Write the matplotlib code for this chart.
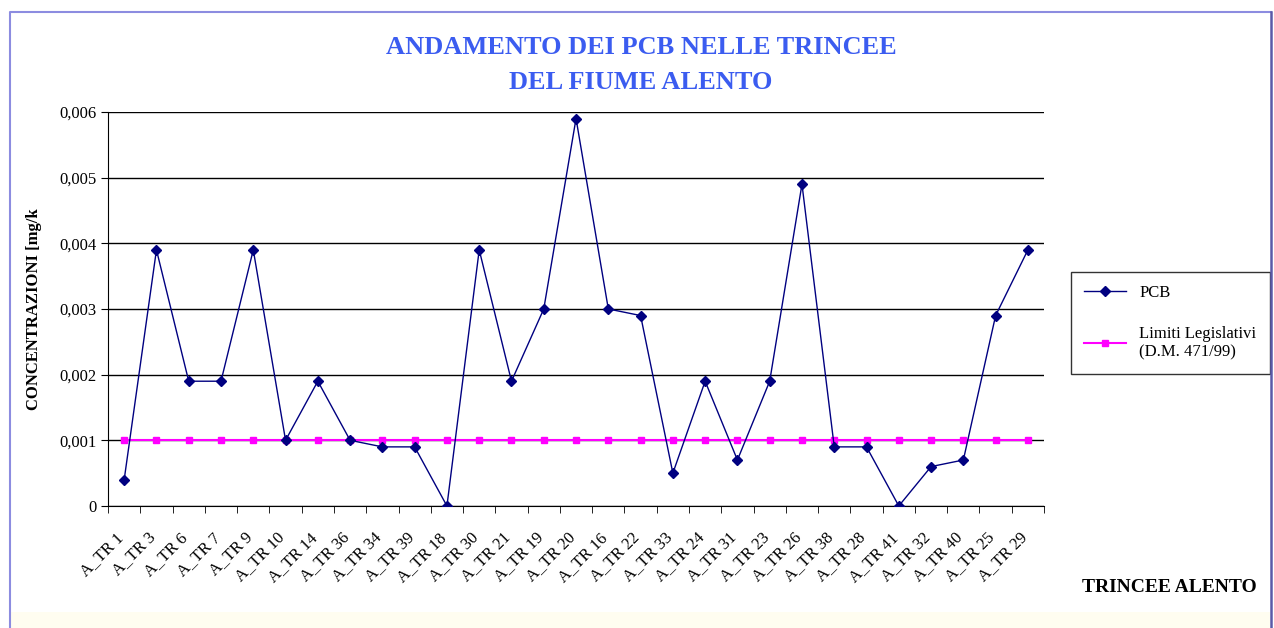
import numpy as np
import matplotlib.pyplot as plt
import matplotlib.transforms as mtransforms
from matplotlib.lines import Line2D
from matplotlib.patches import Rectangle
from matplotlib.ticker import FuncFormatter

# Data
trincee = ['A_TR 1', 'A_TR 3', 'A_TR 6', 'A_TR 7', 'A_TR 9', 'A_TR 10', 'A_TR 14',
           'A_TR 36', 'A_TR 34', 'A_TR 39', 'A_TR 18', 'A_TR 30', 'A_TR 21', 'A_TR 19',
           'A_TR 20', 'A_TR 16', 'A_TR 22', 'A_TR 33', 'A_TR 24', 'A_TR 31', 'A_TR 23',
           'A_TR 26', 'A_TR 38', 'A_TR 28', 'A_TR 41', 'A_TR 32', 'A_TR 40', 'A_TR 25',
           'A_TR 29']
pcb = [0.0004, 0.0039, 0.0019, 0.0019, 0.0039, 0.0010, 0.0019, 0.0010, 0.0009, 0.0009,
       0.0, 0.0039, 0.0019, 0.0030, 0.0059, 0.0030, 0.0029, 0.0005, 0.0019, 0.0007,
       0.0019, 0.0049, 0.0009, 0.0009, 0.0, 0.0006, 0.0007, 0.0029, 0.0039]
limite = [0.001] * len(trincee)

plt.rcParams['font.family'] = ['Liberation Serif', 'DejaVu Serif']

fig = plt.figure(figsize=(12.74, 6.28), dpi=100)
fig.patch.set_facecolor('white')

# light yellow strip at the bottom and the outer border (no bottom edge)
fig.patches.append(Rectangle((0.008, 0), 0.989, 0.026, transform=fig.transFigure,
                             facecolor='#fffdf0', edgecolor='none', zorder=0))
fig.lines.append(Line2D([0.0075, 0.0075, 0.9975], [0.0, 0.981, 0.981],
                        transform=fig.transFigure, color='#8c8ce0', lw=1.5))
fig.lines.append(Line2D([0.9975, 0.9975], [0.981, 0.0],
                        transform=fig.transFigure, color='#5a5aa8', lw=1.8))

ax = fig.add_axes([0.0848, 0.1943, 0.7347, 0.6274])
x = np.arange(len(trincee))

ax.plot(x, pcb, color='#000080', lw=1, marker='D', ms=5, label='PCB', zorder=3)
ax.plot(x, limite, color='#ff00ff', lw=1.5, marker='s', ms=5,
        label='Limiti Legislativi\n(D.M. 471/99)', zorder=2)

ax.set_xlim(-0.5, len(trincee) - 0.5)
ax.set_ylim(0, 0.006)
ax.set_yticks(np.arange(0, 0.0061, 0.001))
ax.yaxis.set_major_formatter(FuncFormatter(lambda v, p: '0' if v == 0 else f'{v:.3f}'.replace('.', ',')))
ax.grid(axis='y', color='black', lw=1)
ax.set_axisbelow(True)

ax.set_xticks(x)
ax.set_xticklabels(trincee, rotation=45, ha='right', rotation_mode='anchor', fontsize=12)
ax.set_xticks(np.arange(-0.5, len(trincee)), minor=True)
ax.tick_params(axis='x', which='major', length=0, pad=17)
ax.tick_params(axis='x', which='minor', length=5, direction='out')
ax.tick_params(axis='y', labelsize=12, length=5, direction='out')
shift = mtransforms.ScaledTranslation(-9 / 100, 0, fig.dpi_scale_trans)
for lab in ax.get_xticklabels():
    lab.set_transform(lab.get_transform() + shift)

for s in ['top', 'right']:
    ax.spines[s].set_visible(False)

ax.set_ylabel('CONCENTRAZIONI [mg/k', fontsize=12, fontweight='bold', labelpad=12)

fig.text(0.503, 0.925, 'ANDAMENTO DEI PCB NELLE TRINCEE', ha='center', va='center',
         fontsize=19, fontweight='bold', color='#3b5cf0')
fig.text(0.503, 0.868, 'DEL FIUME ALENTO', ha='center', va='center',
         fontsize=19, fontweight='bold', color='#3b5cf0')
fig.text(0.918, 0.065, 'TRINCEE ALENTO', ha='center', va='center',
         fontsize=14, fontweight='bold')

leg = ax.legend(loc='center left', bbox_to_anchor=(1.02, 0.465), frameon=True,
                fancybox=False, edgecolor='black', fontsize=12, labelspacing=1.5,
                handlelength=2.5, borderpad=0.8)
leg.get_frame().set_linewidth(1)

fig.savefig('out.png', dpi=100)
